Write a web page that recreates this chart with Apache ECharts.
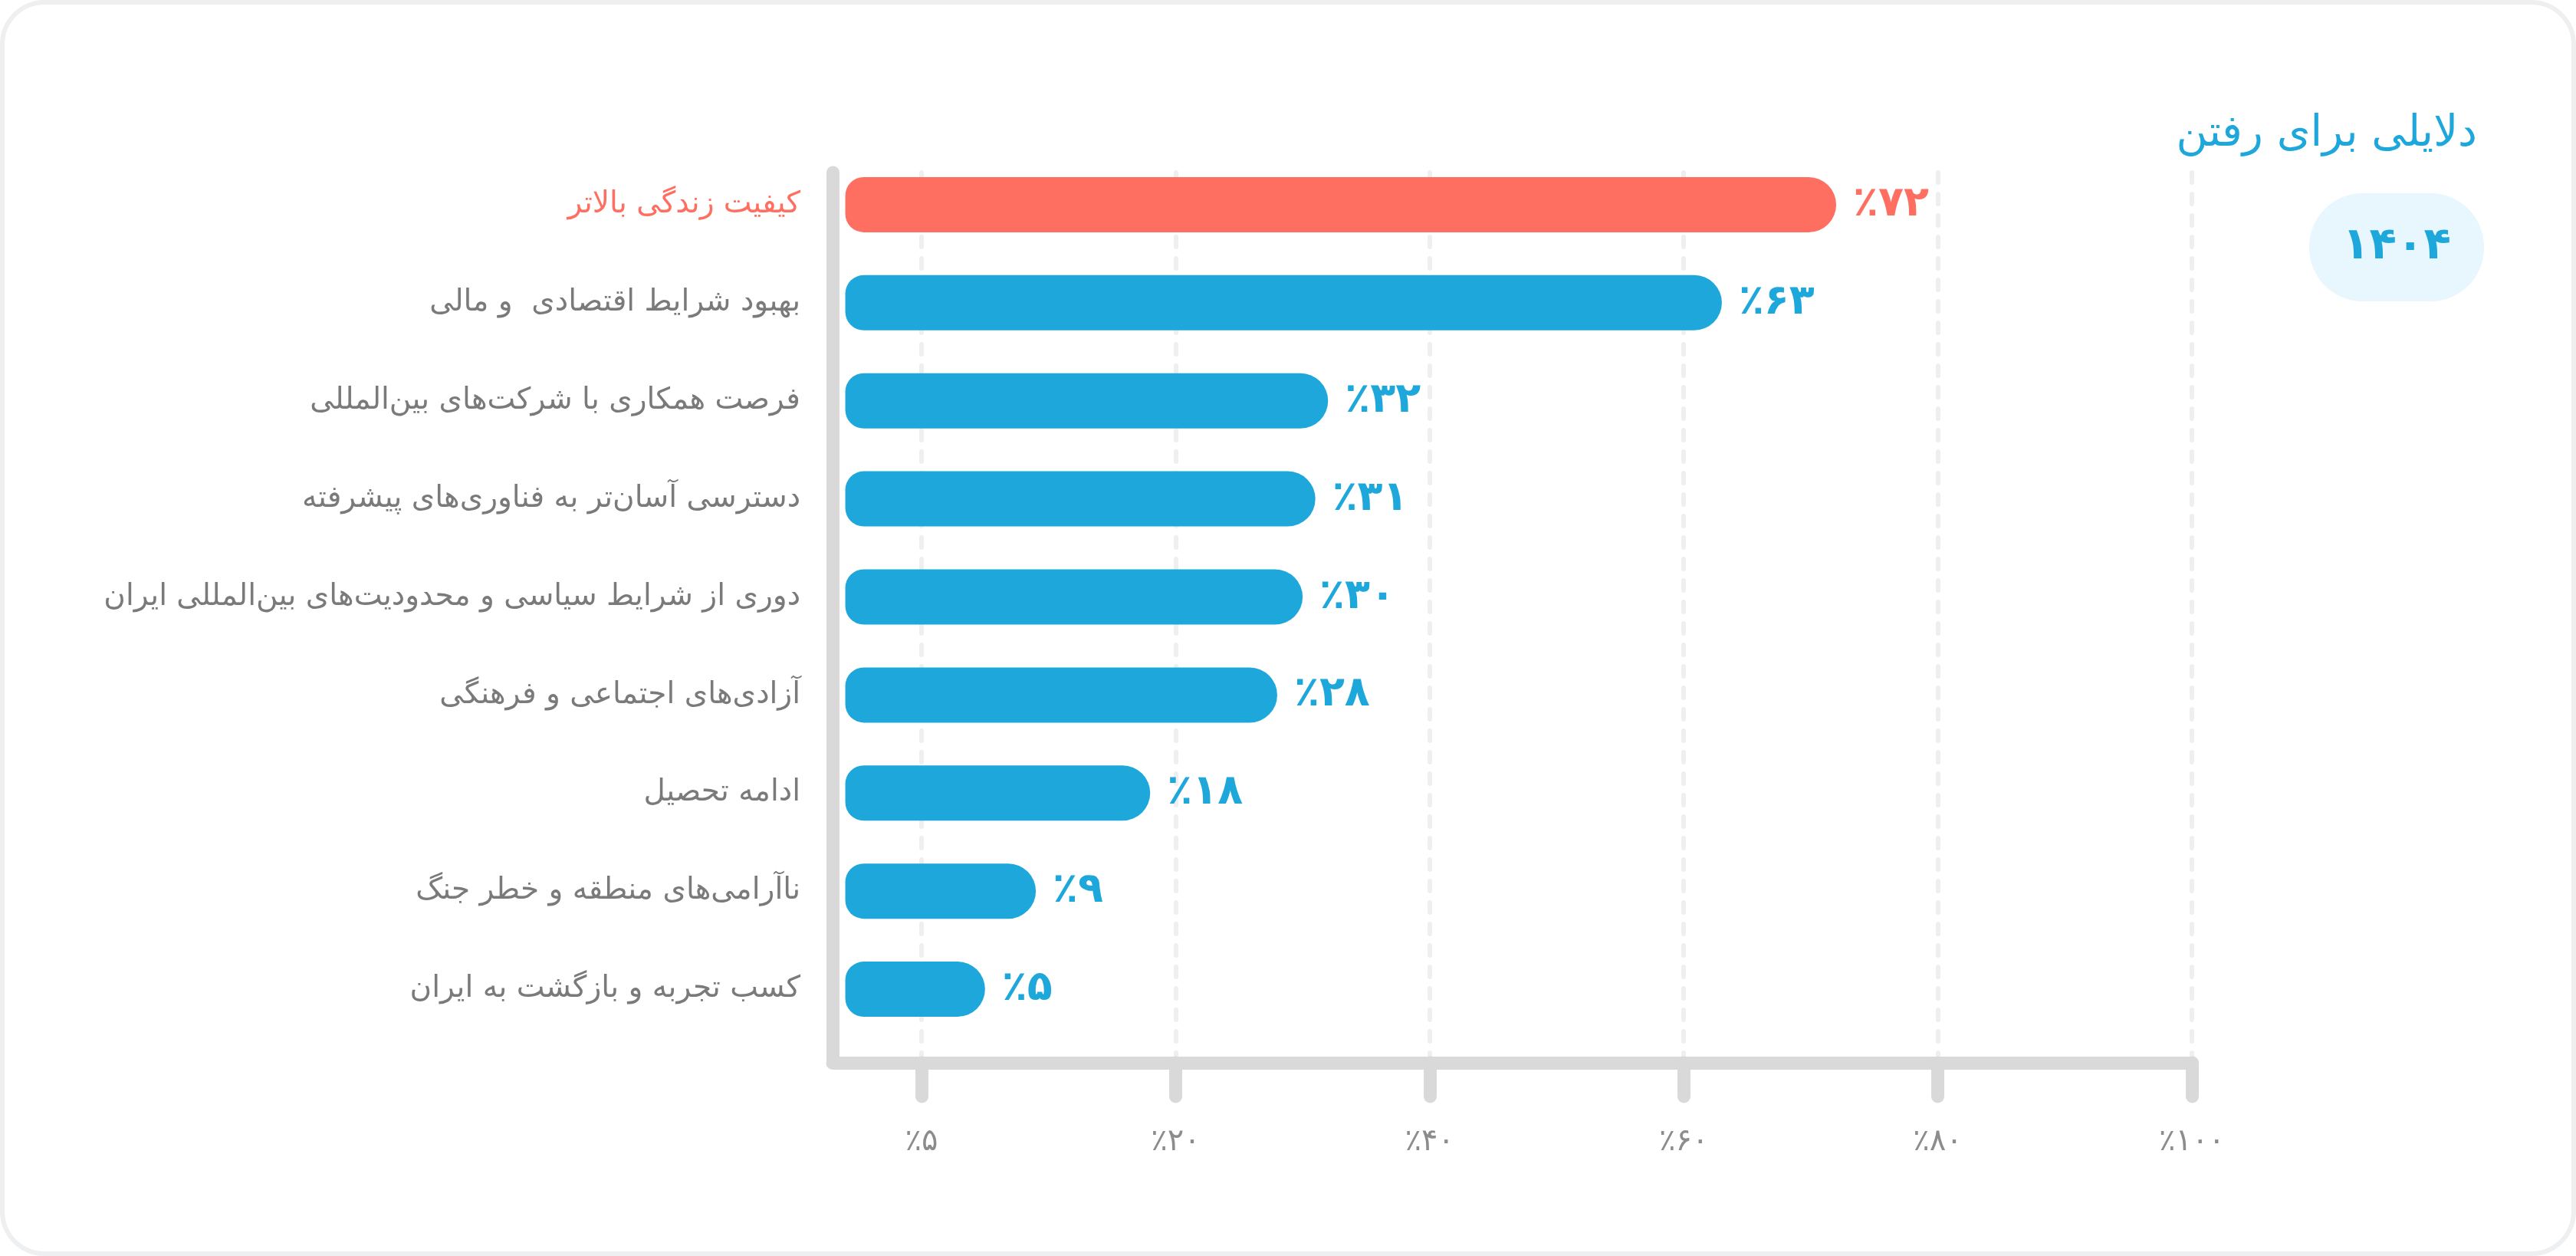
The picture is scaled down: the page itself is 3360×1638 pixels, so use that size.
<!DOCTYPE html>
<html>
<head>
<meta charset="utf-8">
<title>دلایلی برای رفتن</title>
<script src="https://cdn.jsdelivr.net/npm/echarts@6/dist/echarts.min.js"></script>
<style>
    html, body { margin: 0; padding: 0; background: #fff; }
    #main { width: 3360px; height: 1638px; }
</style>
</head>
<body>
<div id="main"></div>
<script>
'use strict'

var reasons = [
    'کیفیت زندگی بالاتر',
    'بهبود شرایط اقتصادی  و مالی',
    'فرصت همکاری با شرکت\u200cهای بین\u200cالمللی',
    'دسترسی آسان\u200cتر به فناوری\u200cهای پیشرفته',
    'دوری از شرایط سیاسی و محدودیت\u200cهای بین\u200cالمللی ایران',
    'آزادی\u200cهای اجتماعی و فرهنگی',
    'ادامه تحصیل',
    'ناآرامی\u200cهای منطقه و خطر جنگ',
    'کسب تجربه و بازگشت به ایران'
]
var percents = [72, 63, 32, 31, 30, 28, 18, 9, 5]
var tickValues = [0, 20, 40, 60, 80, 100]
var tickLabels = ['٪۵', '٪۲۰', '٪۴۰', '٪۶۰', '٪۸۰', '٪۱۰۰']
var titleText = 'دلایلی برای رفتن'
var yearText = '۱۴۰۴'
var highlight = 0   // کیفیت زندگی بالاتر

var BLUE = '#1da7db'
var CORAL = '#ff6f61'
var GRAY = '#d9d9d9'
var FONT = '"DejaVu Sans", sans-serif'

function fa(n) {
    return String(n).replace(/\d/g, function (d) { return '۰۱۲۳۴۵۶۷۸۹'[d] })
}

var barData = percents.map(function (v, i) {
    var c = i === highlight ? CORAL : BLUE
    return { value: v, itemStyle: { color: c }, label: { color: c } }
})

var myChart = echarts.init(document.getElementById('main'), null, { renderer: 'canvas' })

var option = {
    backgroundColor: '#fff',
    animation: false,
    title: {
        text: titleText,
        right: 124,
        top: 142,
        textStyle: { fontFamily: FONT, fontSize: 56, fontWeight: 'normal', color: BLUE }
    },
    grid: [
        // bars
        { left: 1086, right: 501, top: 203, bottom: 284 },
        // axes frame
        { left: 1086, right: 501, top: 225, bottom: 252 }
    ],
    xAxis: [
        {
            type: 'value', gridIndex: 0, min: -7, max: 100, startValue: -6,
            show: false
        },
        {
            type: 'value', gridIndex: 1, min: -7, max: 100,
            axisLine: { show: true, onZero: false, lineStyle: { color: GRAY, width: 17, cap: 'round' } },
            axisTick: {
                show: true, length: 44, customValues: tickValues,
                lineStyle: { color: GRAY, width: 17, cap: 'round' }
            },
            axisLabel: {
                customValues: tickValues, margin: 84,
                fontFamily: FONT, fontSize: 40, color: '#8c8c8c',
                formatter: function (v) { return tickLabels[tickValues.indexOf(v)] }
            },
            splitLine: {
                show: true,
                lineStyle: { color: '#efefef', width: 6, type: [13, 15], cap: 'round' }
            }
        }
    ],
    yAxis: [
        {
            type: 'category', gridIndex: 0, inverse: true, data: reasons,
            axisLine: { show: false },
            axisTick: { show: false },
            axisLabel: {
                interval: 0, margin: 42,
                fontFamily: FONT, fontSize: 39,
                color: function (v, i) { return i === highlight ? CORAL : '#7a7a7a' }
            }
        },
        {
            type: 'value', gridIndex: 1, min: 0, max: 1,
            axisLine: { show: true, onZero: false, lineStyle: { color: GRAY, width: 17, cap: 'round' } },
            axisTick: { show: false },
            axisLabel: { show: false },
            splitLine: { show: false }
        }
    ],
    series: [
        {
            type: 'bar',
            xAxisIndex: 0,
            yAxisIndex: 0,
            barWidth: 72,
            data: barData,
            itemStyle: { borderRadius: [24, 36, 36, 24] },
            label: {
                show: true,
                position: 'right',
                distance: 22,
                fontFamily: FONT,
                fontSize: 54,
                fontWeight: 'bold',
                formatter: function (p) { return '٪' + fa(p.value) }
            }
        }
    ],
    graphic: [
        {
            type: 'rect', z: -10, silent: true,
            shape: { x: 3, y: 3, width: 3354, height: 1632, r: 55 },
            style: { fill: '#fff', stroke: '#eeeff1', lineWidth: 6 }
        },
        {
            type: 'rect', silent: true,
            shape: { x: 3012, y: 252, width: 228, height: 141, r: 70 },
            style: { fill: '#e8f6fd' }
        },
        {
            type: 'text', silent: true,
            x: 3126, y: 322,
            style: {
                text: yearText, fill: BLUE, align: 'center', verticalAlign: 'middle',
                font: 'bold 58px ' + FONT
            }
        }
    ]
}

myChart.setOption(option)
</script>
</body>
</html>
